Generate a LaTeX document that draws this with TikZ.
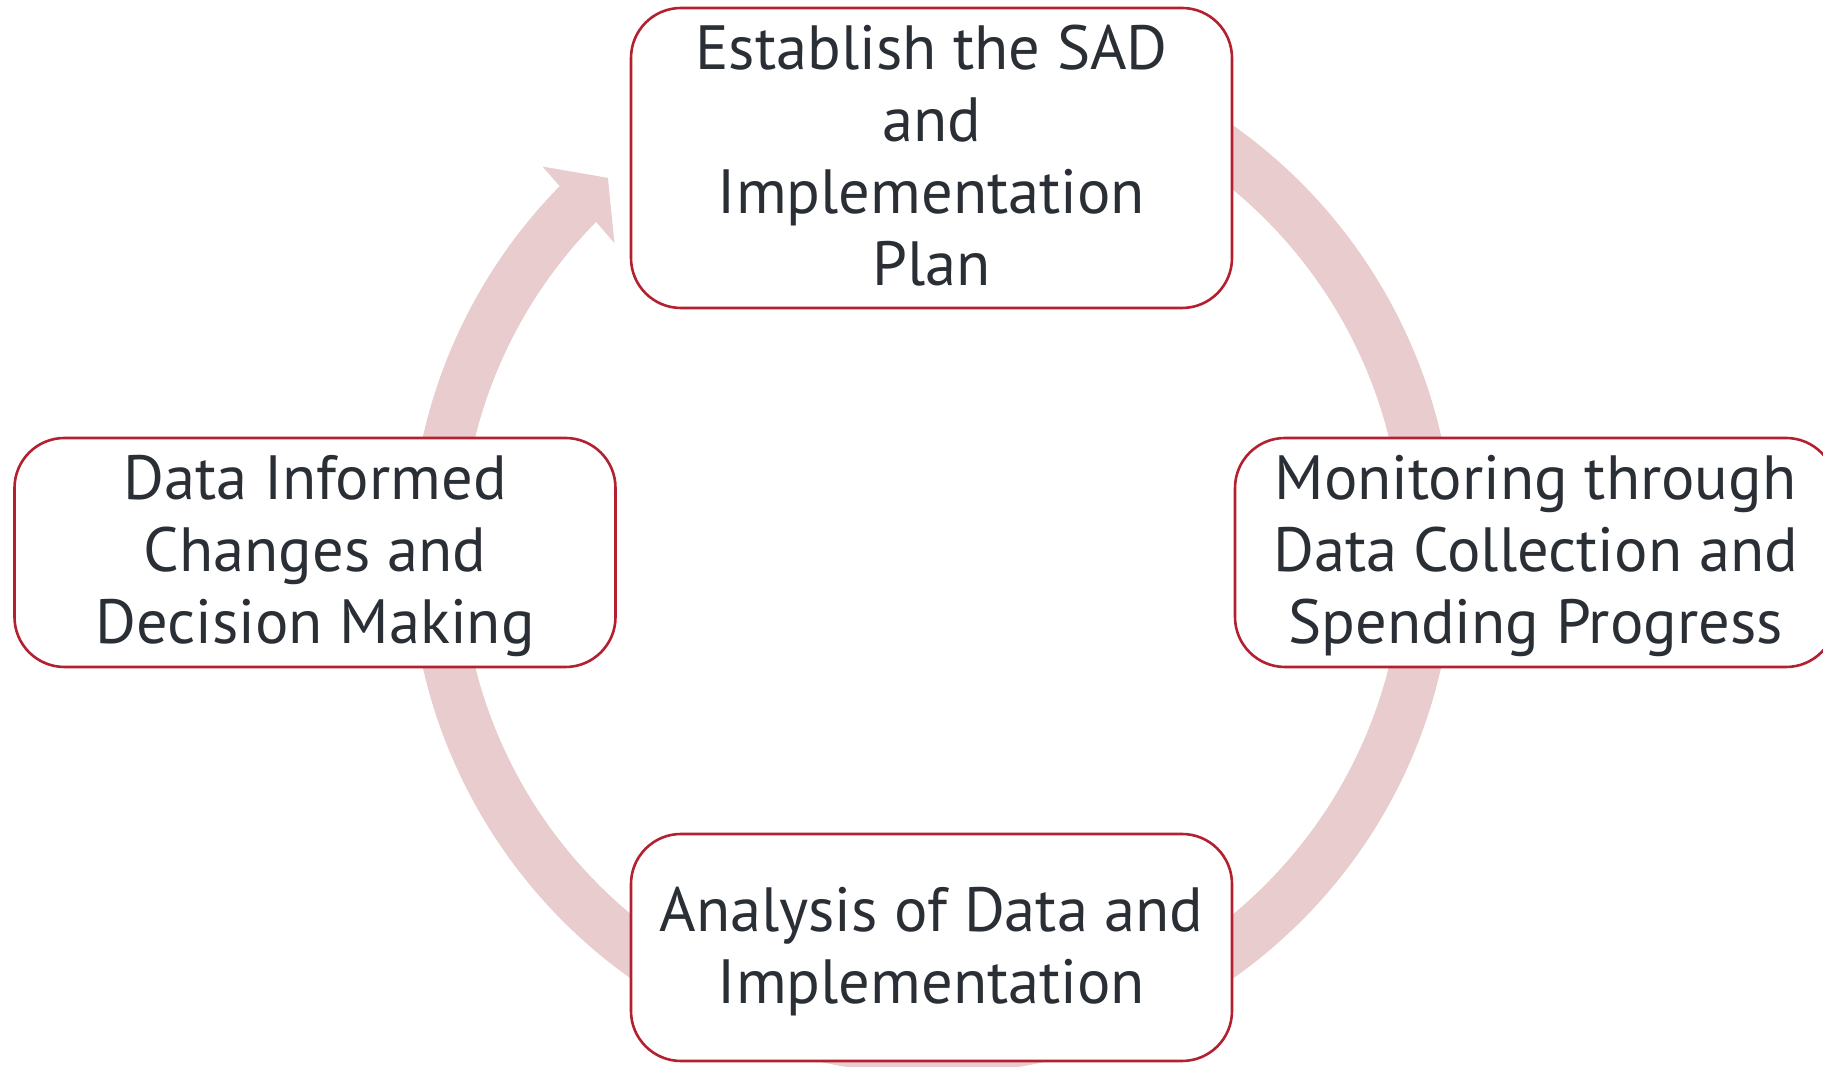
\documentclass[tikz,border=0pt]{standalone}
\usepackage{fontspec}
\setmainfont{PT Sans}
\usetikzlibrary{calc}
\definecolor{ringpink}{HTML}{E8CCCE}
\definecolor{boxred}{HTML}{B3202F}
\definecolor{txtgray}{HTML}{2A2E35}
\begin{document}
\begin{tikzpicture}[x=1pt,y=1pt,
  stage/.style={draw=boxred, line width=2.6pt, fill=white, rounded corners=50pt,
    minimum width=601pt, inner sep=0pt},
  stagetext/.style={inner sep=0pt, text=txtgray, align=center,
    font=\fontsize{62.5}{72}\selectfont}]
\useasboundingbox (0,0) rectangle (1823,1067);
\coordinate (c) at (932,515);
% circular arrow
\fill[ringpink] ($(c)+(80:522)$) arc[start angle=80, end angle=-224.5, radius=522]
  -- ($(c)+(135.3:548)$) -- ($(c)+(130.9:495)$) -- ($(c)+(135.8:443)$)
  -- ($(c)+(135.5:471)$) arc[start angle=-224.5, end angle=80, radius=471] -- cycle;
% boxes
\node[stage, minimum height=300pt] (plan) at (931.5,909) {};
\node[stage, minimum height=229pt] (mon) at (1535.5,514.5) {};
\node[stage, minimum height=227pt] (ana) at (931.5,119.5) {};
\node[stage, minimum height=229pt] (dec) at (315,514.5) {};
% texts
\node[stagetext] (plant) at ([yshift=2pt]plan.center) {Establish the SAD\\and\\Implementation\\Plan};
\node[stagetext] (mont) at ([yshift=-4pt]mon.center) {Monitoring through\\Data Collection and\\Spending Progress};
\node[stagetext] (anat) at ([yshift=-4pt]ana.center) {Analysis of Data and\\Implementation};
\node[stagetext] (dect) at ([yshift=-4pt]dec.center) {Data Informed\\Changes and\\Decision Making};
\end{tikzpicture}
\end{document}
